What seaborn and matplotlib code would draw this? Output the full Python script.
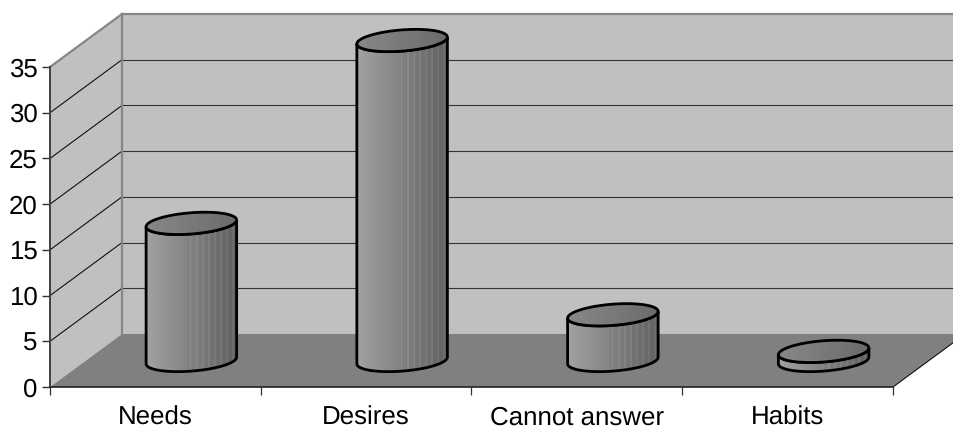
import numpy as np
import matplotlib
matplotlib.use("Agg")
import matplotlib.pyplot as plt
from matplotlib.path import Path
from matplotlib.patches import PathPatch, Polygon
from matplotlib.transforms import IdentityTransform
import seaborn as sns

categories = ["Needs", "Desires", "Cannot answer", "Habits"]
values = [15, 35, 5, 1]
y_ticks = [0, 5, 10, 15, 20, 25, 30, 35]

WALL = "#c0c0c0"
FLOOR = "#808080"
EDGE = "#868686"
DPI = 100
W, H = 954, 428

sns.set_theme(style="white")
plt.rcParams["font.family"] = ["Liberation Sans", "DejaVu Sans"]
plt.rcParams["text.hinting"] = "none"

fig = plt.figure(figsize=(W / DPI, H / DPI), dpi=DPI, facecolor="white")
ax = fig.add_axes([50 / W, (H - 387) / H, 843 / W, 320 / H])

sns.barplot(x=categories, y=values, width=0.427, color="#999999", ax=ax)
bars = list(ax.patches)
ax.set_xlim(-0.5, 3.5)
ax.set_ylim(0, 35)

# Oblique projection: depth 0 is the front plane, depth 1 the back wall
DEPTH = np.array([72.0, 53.0])
no_transform = IdentityTransform()


def project(x, v, depth=0.0):
    return ax.transData.transform((x, v)) + depth * DEPTH


def panel(points, color, z):
    ax.add_patch(Polygon(points, closed=True, facecolor=color, edgecolor="none",
                         transform=no_transform, clip_on=False, zorder=z))


def segment(a, b, color, lw, z):
    ax.plot([a[0], b[0]], [a[1], b[1]], color=color, lw=lw, transform=no_transform,
            clip_on=False, zorder=z, solid_capstyle="projecting", scalex=False, scaley=False)


def shaded(path, gradient, bounds, z):
    img = ax.imshow(gradient, cmap="gray", vmin=0, vmax=1, aspect="auto", extent=bounds,
                    transform=no_transform, interpolation="nearest", zorder=z)
    img.set_clip_box(fig.bbox)
    img.set_clip_path(path, no_transform)


x0, x1 = ax.get_xlim()
panel([project(x0, 0, 1), project(x1, 0, 1), project(x1, 35, 1), project(x0, 35, 1)], WALL, 1)
panel([project(x0, 0), project(x0, 0, 1), project(x0, 35, 1), project(x0, 35)], WALL, 1)
panel([project(x0, 0), project(x1, 0), project(x1, 0, 1), project(x0, 0, 1)], FLOOR, 1.1)

for tick in y_ticks[1:-1]:
    segment(project(x0, tick), project(x0, tick, 1), "#111111", 0.8, 2)
    segment(project(x0, tick, 1), project(x1, tick, 1), "#333333", 0.8, 2)

segment(project(x0, 35), project(x0, 35, 1), EDGE, 1.6, 2.1)
segment(project(x0, 35, 1), project(x1, 35, 1), EDGE, 1.6, 2.1)
segment(project(x0, 0, 1), project(x0, 35, 1), EDGE, 1.6, 2.1)
segment(project(x1, 0), project(x1, 0, 1), "#111111", 0.8, 2.1)

# Vertical shading of a cylinder wall, with the fine banding on its shadow side
columns = np.arange(60)
shade = np.linspace(0.63, 0.38, 60)
shade[(columns % 4 == 1) & (columns > 28)] += 0.04
shade = shade[np.newaxis, :]
cap_shade = np.linspace(0.53, 0.42, 60)[np.newaxis, :]

A, B, TILT = 45.4, 10.6, np.deg2rad(4.5)
t = np.linspace(0, 2 * np.pi, 241)
ring = np.column_stack([A * np.cos(t) * np.cos(TILT) - B * np.sin(t) * np.sin(TILT),
                        A * np.cos(t) * np.sin(TILT) + B * np.sin(t) * np.cos(TILT)])
left_i = int(np.argmin(ring[:, 0]))
right_i = left_i + int(np.argmax(ring[left_i:, 0]))
front_rim = ring[left_i:right_i + 1]

for bar in bars:
    cx = bar.get_x() + bar.get_width() / 2
    base = project(cx, 0, 0.5)
    top = project(cx, bar.get_height(), 0.5)
    bar.remove()

    # Wall outline: front rim along the base, then back along the top ellipse
    body = np.vstack([base + front_rim, (top + front_rim)[::-1]])
    outline = Path(np.vstack([body, body[:1]]))
    ax.add_patch(PathPatch(outline, facecolor="none", edgecolor="black",
                           lw=2.0, transform=no_transform, clip_on=False, zorder=4))
    xs = (base + ring)[:, 0]
    shaded(outline, shade, [xs.min(), xs.max(), body[:, 1].min(), body[:, 1].max()], 3)

    cap_path = Path(top + ring)
    cap_ys = (top + ring)[:, 1]
    shaded(cap_path, cap_shade, [xs.min(), xs.max(), cap_ys.min(), cap_ys.max()], 4.5)
    ax.add_patch(PathPatch(cap_path, facecolor="none", edgecolor="black", lw=2.0,
                           transform=no_transform, clip_on=False, zorder=5))

ax.set_xlim(-0.5, 3.5)
ax.set_ylim(0, 35)

# Axis lines and ticks
for name in ("top", "right"):
    ax.spines[name].set_visible(False)
ax.spines["left"].set_color("#404040")
ax.spines["left"].set_linewidth(1.4)
ax.spines["bottom"].set_color("#222222")
ax.spines["bottom"].set_linewidth(1.2)
for spine in ax.spines.values():
    spine.set_zorder(6)

ax.set_yticks(y_ticks)
ax.set_xticks(np.arange(-0.5, 4, 1))
ax.set_xticklabels([])
ax.tick_params(axis="x", length=6, width=0.9, color="#333333", bottom=True)
ax.tick_params(axis="y", length=6, width=1, color="#333333", labelsize=18.6, pad=3, labelcolor="black", left=True)
ax.set_xlabel("")
ax.set_ylabel("")

# Category names share a baseline, centred between the tick marks
for position, name in enumerate(categories):
    ax.annotate(name, (position, 0), xycoords=("data", "axes fraction"), xytext=(0, -27.3),
                textcoords="offset points", ha="center", va="baseline",
                fontsize=18.6, color="black", annotation_clip=False)

fig.savefig("out.png", dpi=DPI, facecolor="white")
